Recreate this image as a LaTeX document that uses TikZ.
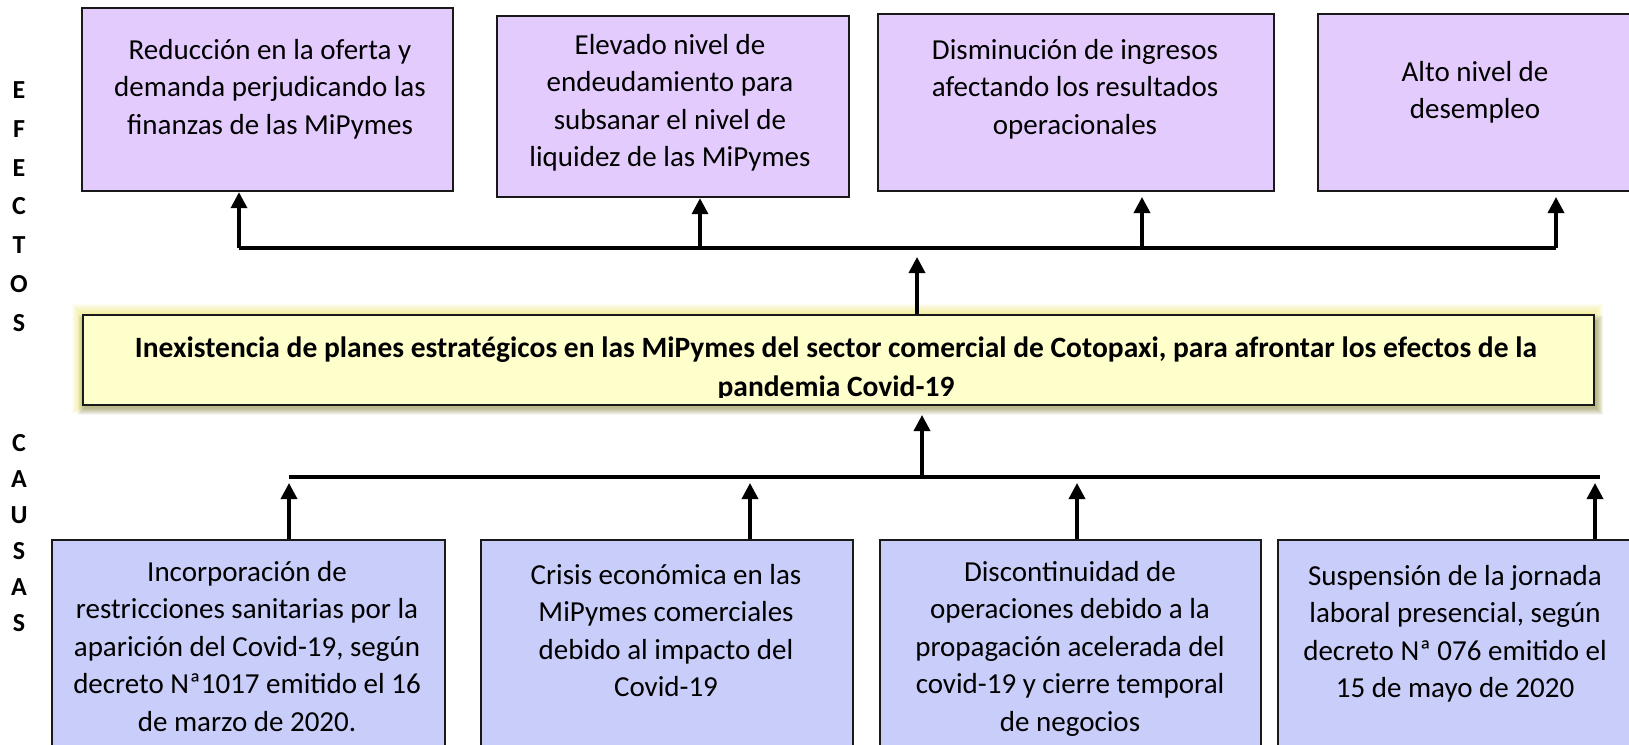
\documentclass[tikz,border=0pt]{standalone}
\usepackage{fontspec}
\setmainfont{Carlito}
\usetikzlibrary{arrows.meta}
\definecolor{effcol}{HTML}{E3CCFD}
\definecolor{caucol}{HTML}{C9CDF9}
\definecolor{yelcol}{HTML}{FFFFCC}
\definecolor{glowcol}{HTML}{EDE85A}
\newcommand{\tstrut}{\rule{0pt}{25pt}}
\begin{document}
\begin{tikzpicture}[x=1pt,y=-1pt,
  box/.style={draw=black!90, line width=2.2pt, inner sep=0pt, anchor=north west},
  ebox/.style={box, fill=effcol},
  cbox/.style={box, fill=caucol},
  txt/.style={align=center, anchor=north, inner sep=0pt, font=\fontsize{29}{37.5}\selectfont},
  lbl/.style={font=\fontsize{26}{26}\selectfont\bfseries, inner sep=0pt},
  conn/.style={line width=3.5pt},
  arr/.style={line width=3.5pt, -{Triangle[width=16pt,length=16pt]}},
]
\useasboundingbox (0,0) rectangle (1629,744);
\fill[white] (0,0) rectangle (1629,744);

% side labels
\node[lbl] (l1) at (19,90) {E};
\node[lbl] (l2) at (19,128.8) {F};
\node[lbl] (l3) at (19,167.6) {E};
\node[lbl] (l4) at (19,206.4) {C};
\node[lbl] (l5) at (19,245.2) {T};
\node[lbl] (l6) at (19,284) {O};
\node[lbl] (l7) at (19,322.8) {S};
\node[lbl] (m1) at (19,443) {C};
\node[lbl] (m2) at (19,479) {A};
\node[lbl] (m3) at (19,515) {U};
\node[lbl] (m4) at (19,551) {S};
\node[lbl] (m5) at (19,587) {A};
\node[lbl] (m6) at (19,623) {S};

% effect boxes
\node[ebox, minimum width=371pt, minimum height=183pt] (e1) at (81,7) {};
\node[ebox, minimum width=352pt, minimum height=181pt] (e2) at (496,15) {};
\node[ebox, minimum width=396pt, minimum height=177pt] (e3) at (877,13) {};
\node[ebox, minimum width=330pt, minimum height=177pt] (e4) at (1317,13) {};
\node[txt] (et1) at (270,34) {\tstrut Reducción en la oferta y\\demanda perjudicando las\\finanzas de las MiPymes};
\node[txt] (et2) at (670,29) {\tstrut Elevado nivel de\\endeudamiento para\\subsanar el nivel de\\liquidez de las MiPymes};
\node[txt] (et3) at (1075,34) {\tstrut Disminución de ingresos\\afectando los resultados\\operacionales};
\node[txt] (et4) at (1475,56) {\tstrut Alto nivel de\\desempleo};

% effect connectors
\coordinate (a1) at (239,248);
\coordinate (a2) at (700,248);
\coordinate (a3) at (1142,248);
\coordinate (a4) at (1556,248);
\draw[conn] (a1) -- (a4);
\draw[arr] (a1) -- (a1 |- e1.south);
\draw[arr] (a2) -- (a2 |- e2.south);
\draw[arr] (a3) -- ++(0,-51);
\draw[arr] (a4) -- ++(0,-51);

% central problem box with glow and shadow
\foreach \i in {1,...,10} {\fill[glowcol, opacity=0.07] (82-\i,314-\i) rectangle (1593+\i,404+\i);}
\foreach \i in {0,...,6} {\fill[black, opacity=0.035] (82+2-\i,314+7-\i) rectangle (1593+4+\i,404+5+\i);}
\node[box, fill=yelcol, minimum width=1511pt, minimum height=90pt] (p) at (82,314) {};
\begin{scope}
\clip (84,316) rectangle (1591,397);
\node[align=center, anchor=north, inner sep=0pt, font=\fontsize{29.5}{39}\selectfont\bfseries] (pt) at (836,332) {\tstrut Inexistencia de planes estratégicos en las MiPymes del sector comercial de Cotopaxi, para afrontar los efectos de la\\pandemia Covid-19};
\end{scope}
\coordinate (c0) at (917,257);
\draw[arr] (c0 |- p.north) -- (c0);

% cause boxes
\node[cbox, minimum width=393pt, minimum height=230pt] (k1) at (51,539) {};
\node[cbox, minimum width=372pt, minimum height=230pt] (k2) at (480,539) {};
\node[cbox, minimum width=381pt, minimum height=230pt] (k3) at (879,539) {};
\node[cbox, minimum width=370pt, minimum height=230pt] (k4) at (1277,539) {};
\node[txt] (kt1) at (247,556) {\tstrut Incorporación de\\restricciones sanitarias por la\\aparición del Covid-19, según\\decreto Nª1017 emitido el 16\\de marzo de 2020.};
\node[txt] (kt2) at (666,559) {\tstrut Crisis económica en las\\MiPymes comerciales\\debido al impacto del\\Covid-19};
\node[txt] (kt3) at (1070,556) {\tstrut Discontinuidad de\\operaciones debido a la\\propagación acelerada del\\covid-19 y cierre temporal\\de negocios};
\node[txt] (kt4) at (1455,560) {\tstrut Suspensión de la jornada\\laboral presencial, según\\decreto Nª 076 emitido el\\15 de mayo de 2020};

% cause connectors
\coordinate (b0) at (289,477);
\coordinate (b5) at (1600,477);
\coordinate (cm) at (922,477);
\draw[conn] (b0) -- (b5);
\draw[arr] (cm) -- ++(0,-62);
\coordinate (q1) at (289,483);
\coordinate (q2) at (750,483);
\coordinate (q3) at (1077,483);
\coordinate (q4) at (1595,483);
\draw[arr] (q1 |- k1.north) -- (q1);
\draw[arr] (q2 |- k2.north) -- (q2);
\draw[arr] (q3 |- k3.north) -- (q3);
\draw[arr] (q4 |- k4.north) -- (q4);
\end{tikzpicture}
\end{document}
